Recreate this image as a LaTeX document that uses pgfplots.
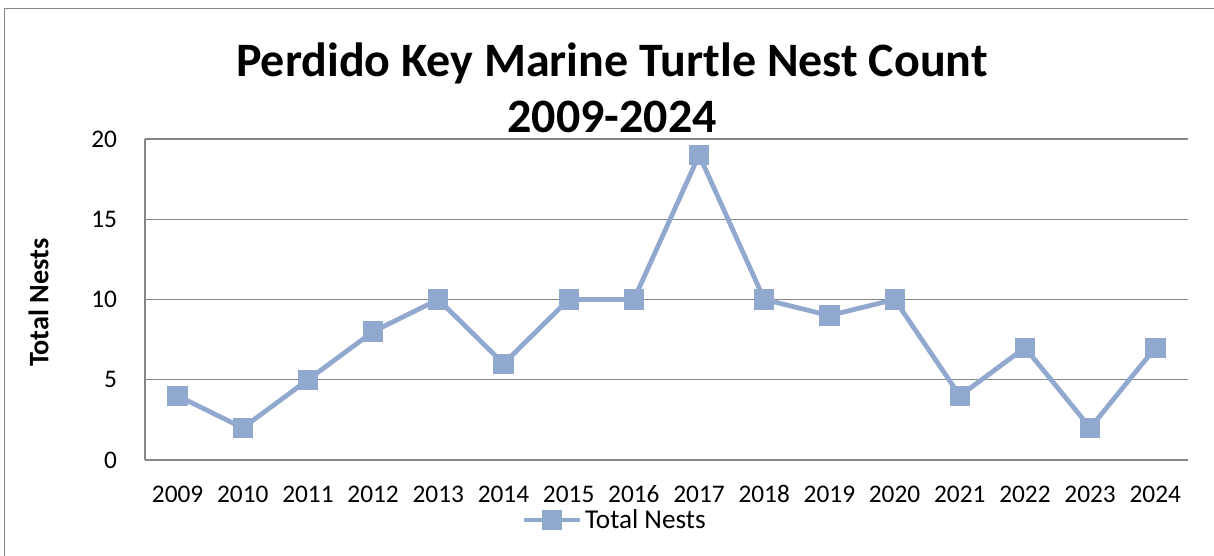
\documentclass[border=0pt]{standalone}
\usepackage{fontspec}
\setmainfont{Carlito}
\usepackage{pgfplots}
\pgfplotsset{compat=1.18}
\definecolor{serie}{RGB}{146,169,207}
\definecolor{gridc}{RGB}{134,134,134}
\begin{document}
\begin{tikzpicture}[x=1pt,y=1pt]
\useasboundingbox (0,0) rectangle (910.5,417);
\draw[gridc,line width=1.1pt] (3.2,0) -- (3.2,410.5) -- (910.5,410.5);
\begin{axis}[
  at={(108.75pt,72pt)}, anchor=south west,
  scale only axis, width=782.25pt, height=240.75pt,
  xmin=2008.5, xmax=2024.5, ymin=0, ymax=20,
  xtick={2009,...,2024}, ytick={0,5,10,15,20},
  xticklabel style={/pgf/number format/1000 sep={}, anchor=base},
  /pgf/number format/assume math mode=true,
  ticklabel style={font=\fontsize{19}{23}\selectfont},
  major tick length=0pt,
  xtick style={draw=none}, ytick style={draw=none},
  ymajorgrids, grid style={gridc,line width=1.1pt},
  axis x line*=bottom, axis y line*=left,
  axis line style={gridc,line width=1.1pt},
  x axis line style={-}, y axis line style={-},
  xticklabel shift=32pt, yticklabel shift=17.5pt,
  clip=false,
  legend style={at={(axis description cs:0.4506,-0.187)}, anchor=center, draw=none, fill=none, font=\fontsize{20.4}{24}\selectfont, inner sep=0pt},
  legend image code/.code={\draw[#1, mark repeat=2, mark phase=2] plot coordinates {(0pt,0pt) (21pt,0pt) (42pt,0pt)};},
]
\addplot[color=serie, line width=3.6pt, mark=square*, mark size=7.2pt, mark options={solid, line width=0pt, fill=serie}] coordinates {
(2009,4) (2010,2) (2011,5) (2012,8) (2013,10) (2014,6) (2015,10) (2016,10)
(2017,19) (2018,10) (2019,9) (2020,10) (2021,4) (2022,7) (2023,2) (2024,7)};
\addlegendentry{Total Nests}
\end{axis}
\node[anchor=base, font=\fontsize{36}{42}\selectfont\bfseries] at (459,359.25) {Perdido Key Marine Turtle Nest Count};
\node[anchor=base, font=\fontsize{36}{42}\selectfont\bfseries] at (459,317.25) {2009-2024};
\node[rotate=90, font=\fontsize{21.2}{25}\selectfont\bfseries] at (29,190) {Total Nests};
\end{tikzpicture}
\end{document}
